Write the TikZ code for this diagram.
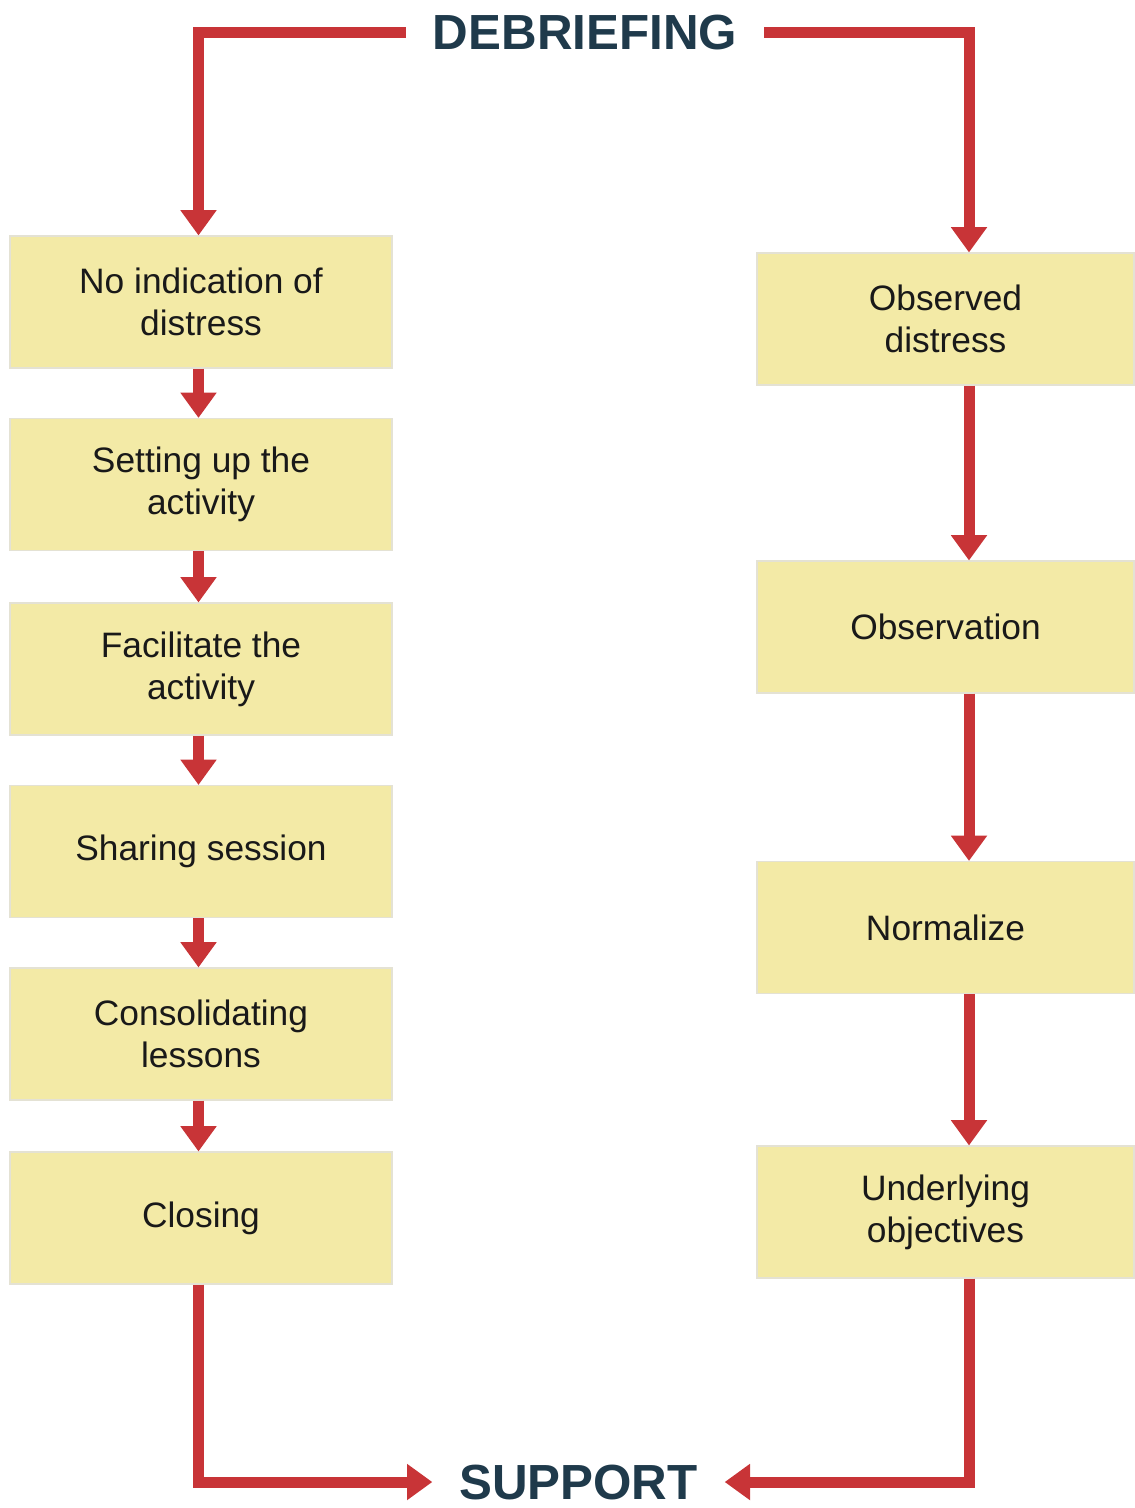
\documentclass[tikz,border=0pt]{standalone}
\usepackage{fontspec}
\setmainfont{Liberation Sans}
\usetikzlibrary{arrows.meta}
\definecolor{arrred}{RGB}{200,52,55}
\definecolor{boxfill}{RGB}{243,234,166}
\definecolor{boxedge}{RGB}{228,226,212}
\definecolor{titlecol}{RGB}{31,58,75}
\definecolor{txtcol}{RGB}{25,25,25}
\begin{document}
\begin{tikzpicture}[x=0.75pt,y=-0.75pt,
  box/.style={rectangle, fill=boxfill, draw=boxedge, line width=0.8pt,
    minimum height=99pt, align=center, text=txtcol,
    font=\fontsize{26.5}{31.5}\selectfont},
  lbox/.style={box, minimum width=286.5pt},
  rbox/.style={box, minimum width=282.75pt},
  title/.style={font=\fontsize{37}{39}\selectfont\bfseries, text=titlecol,
    inner ysep=0pt},
  flow/.style={draw=arrred, line width=8.25pt,
    -{Triangle[width=26pt,length=19pt]}}]
\useasboundingbox (0,0) rectangle (1134,1508);

% titles
\node[title, inner xsep=20pt] (deb) at (585,33) {DEBRIEFING};
\node[title, inner xsep=20pt] (sup) at (578.5,1482) {SUPPORT};

% left column
\node[lbox] (L1) at (201,302) {No indication of\\distress};
\node[lbox] (L2) at (201,484.5) {Setting up the\\activity};
\node[lbox] (L3) at (201,669) {Facilitate the\\activity};
\node[lbox] (L4) at (201,851.5) {Sharing session};
\node[lbox] (L5) at (201,1034) {Consolidating\\lessons};
\node[lbox] (L6) at (201,1218) {Closing};

% right column
\node[rbox] (R1) at (945.5,319) {Observed\\distress};
\node[rbox] (R2) at (945.5,627) {Observation};
\node[rbox] (R3) at (945.5,927.5) {Normalize};
\node[rbox] (R4) at (945.5,1212) {Underlying\\objectives};

\coordinate (lx) at (198.5,0);
\coordinate (rx) at (969,0);

% top connectors
\draw[flow] (deb.west) -| (lx |- L1.north);
\draw[flow] (deb.east) -| (rx |- R1.north);

% left chain
\draw[flow] (lx |- L1.south) -- (lx |- L2.north);
\draw[flow] (lx |- L2.south) -- (lx |- L3.north);
\draw[flow] (lx |- L3.south) -- (lx |- L4.north);
\draw[flow] (lx |- L4.south) -- (lx |- L5.north);
\draw[flow] (lx |- L5.south) -- (lx |- L6.north);

% right chain
\draw[flow] (rx |- R1.south) -- (rx |- R2.north);
\draw[flow] (rx |- R2.south) -- (rx |- R3.north);
\draw[flow] (rx |- R3.south) -- (rx |- R4.north);

% bottom connectors
\draw[flow] (lx |- L6.south) |- (sup.west);
\draw[flow] (rx |- R4.south) |- (sup.east);
\end{tikzpicture}
\end{document}
